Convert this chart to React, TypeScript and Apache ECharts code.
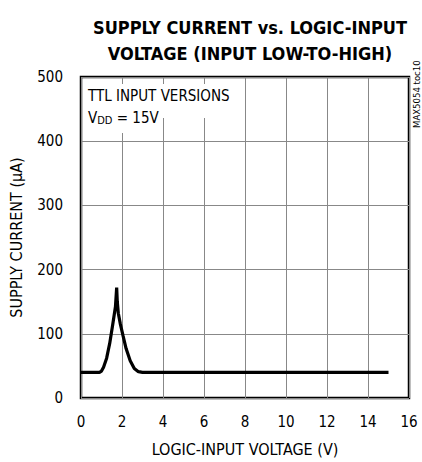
import React, { useEffect, useRef } from "react";
import * as echarts from "echarts";

const xTicks = [0, 2, 4, 6, 8, 10, 12, 14, 16];
const yTicks = [0, 100, 200, 300, 400, 500];
const voltage = [0, 0.9, 1.0, 1.1, 1.25, 1.4, 1.55, 1.68, 1.74, 1.77, 1.82, 1.92, 2.05, 2.2, 2.4, 2.6, 2.8, 3.0, 15];
const current = [40, 40, 42, 48, 62, 85, 115, 142, 172, 150, 132, 115, 97, 77, 58, 46, 41, 40, 40];

const FONT = "'Liberation Sans Narrow', 'DejaVu Sans Condensed', 'Arial Narrow', sans-serif";

export default function App() {
  const ref = useRef<HTMLDivElement>(null);
  useEffect(() => {
    if (!ref.current) return;
    const chart = echarts.init(ref.current, undefined, { renderer: "svg" });
    const data = voltage.map((v, i) => [v, current[i]]);
    chart.setOption({
      animation: false,
      backgroundColor: "#ffffff",
      title: {
        text: "SUPPLY CURRENT vs. LOGIC-INPUT\nVOLTAGE (INPUT LOW-TO-HIGH)",
        left: 245,
        textAlign: "center",
        top: 9,
        textStyle: { fontFamily: FONT, fontWeight: "bold", fontSize: 18, lineHeight: 26, color: "#000" },
      },
      grid: { left: 81, right: 13, top: 77, bottom: 58, show: true, borderColor: "#000", borderWidth: 2.5 },
      xAxis: {
        type: "value",
        min: xTicks[0],
        max: xTicks[xTicks.length - 1],
        interval: 2,
        name: "LOGIC-INPUT VOLTAGE (V)",
        nameLocation: "middle",
        nameGap: 43,
        nameTextStyle: { fontFamily: FONT, fontSize: 16, color: "#000" },
        axisLine: { show: false },
        axisTick: { show: false },
        axisLabel: { fontFamily: FONT, fontSize: 15, color: "#000", margin: 16 },
        splitLine: { show: true, lineStyle: { color: "#888", width: 1 } },
      },
      yAxis: {
        type: "value",
        min: yTicks[0],
        max: yTicks[yTicks.length - 1],
        interval: 100,
        name: "SUPPLY CURRENT (µA)",
        nameLocation: "middle",
        nameGap: 57,
        nameTextStyle: { fontFamily: FONT, fontSize: 16, color: "#000" },
        axisLine: { show: false },
        axisTick: { show: false },
        axisLabel: { fontFamily: FONT, fontSize: 15, color: "#000", margin: 18 },
        splitLine: { show: true, lineStyle: { color: "#888", width: 1 } },
      },
      series: [
        {
          type: "line",
          data,
          showSymbol: false,
          smooth: false,
          lineStyle: { color: "#000", width: 3.2 },
          z: 5,
        },
      ],
      graphic: [
        { type: "rect", z: 99, shape: { x: 83, y: 84, width: 153, height: 34 }, style: { fill: "#fff" } },
        { type: "rect", z: 99, shape: { x: 83, y: 118, width: 77, height: 15 }, style: { fill: "#fff" } },
        {
          type: "text",
          z: 100,
          x: 88,
          y: 88,
          style: {
            text: "TTL INPUT VERSIONS",
            fontFamily: FONT,
            fontSize: 15,
            fill: "#000",
          },
        },
        {
          type: "text",
          z: 100,
          x: 88,
          y: 109,
          style: {
            text: "V{s|DD} = 15V",
            fontFamily: FONT,
            fontSize: 15,
            fill: "#000",
            rich: {
              s: { fontFamily: FONT, fontSize: 11, verticalAlign: "bottom", padding: [6, 0, 0, 0] },
            },
          },
        },
        {
          type: "text",
          z: 100,
          x: 411,
          y: 128,
          rotation: Math.PI / 2,
          style: {
            text: "MAX5054 toc10",
            fontFamily: FONT,
            fontSize: 9.5,
            fill: "#000",
          },
        },
      ],
    });
    return () => chart.dispose();
  }, []);
  return <div ref={ref} style={{ position: "fixed", left: 0, top: 0, width: 422, height: 462 }} />;
}
